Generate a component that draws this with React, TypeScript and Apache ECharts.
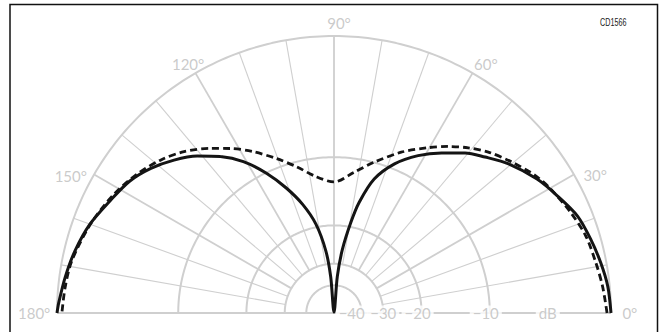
import { useEffect, useRef } from "react";
import * as echarts from "echarts";

// Radial scale: rings in dB (radius grows as 10^(dB/40))
const ringDb = [0, -10, -20, -30, -40];
const spokeAngles = [10, 20, 30, 40, 50, 60, 70, 80, 90, 100, 110, 120, 130, 140, 150, 160, 170];
const angleLabels = [0, 30, 60, 90, 120, 150, 180];
const radialLabelText = ["\u221240", "\u221230", "\u221220", "\u221210", "dB"];
const radialLabelDb = [-40, -30, -20, -10, -4.5];

// Solid curve (angle in degrees, level in dB)
const solidAngles = [0, 5.5, 10.6, 16, 21.7, 27.7, 33.4, 40.5, 45.9, 50.7, 56.1, 61.9, 67.9, 73.3, 77.2, 79.5, 82.5, 84.8, 90, 95.2, 97.5, 101.5, 106.1, 110.9, 115.8, 120.9, 126, 131.1, 136.3, 141.7, 147.2, 153.5, 160, 166.5, 172.4, 178, 180];
const solidDb = [0, -0.12, -0.35, -0.63, -0.96, -1.63, -2.26, -3.26, -4.23, -5.07, -6.29, -7.64, -9.43, -11.87, -15.53, -19.2, -25.5, -35.1, -100, -35.4, -25.8, -19.4, -15.57, -12.64, -10.06, -7.83, -6.25, -4.96, -3.9, -2.98, -2.26, -1.74, -1.12, -0.68, -0.37, -0.09, 0];

// Dashed curve
const dashedAngles = [0, 5.6, 10.8, 17, 23, 29.8, 34.3, 40.3, 46.2, 50.9, 55.6, 60.4, 67.3, 75, 81.9, 90, 97.6, 104.5, 110.5, 116.6, 122.3, 126.9, 132.9, 138.5, 145, 152, 160, 168.7, 174.5, 180];
const dashedDb = [-0.25, -0.45, -0.66, -0.88, -1.29, -1.81, -2.22, -2.98, -3.77, -4.58, -5.5, -6.54, -8.05, -9.95, -11.6, -13.0, -12.14, -10.5, -9.0, -7.45, -6.13, -5.16, -3.98, -3.15, -2.4, -1.75, -1.15, -0.62, -0.44, -0.31];

const toR = (db: number) => Math.pow(10, db / 40);

const GRID = "#cfcfcf";
const LABEL = "#bdbdbd";
const CX = 334;
const CY = 313;
const R = 277;
const RMAX = 1.1;

export default function App() {
  const ref = useRef<HTMLDivElement>(null);
  useEffect(() => {
    if (!ref.current) return;
    const chart = echarts.init(ref.current, null, { renderer: "svg" });
    const arcAngles: number[] = [];
    for (let a = 0; a <= 180; a += 1) arcAngles.push(a);

    const series: any[] = [];
    ringDb.forEach((db) => {
      series.push({
        type: "line",
        coordinateSystem: "polar",
        data: arcAngles.map((a) => [toR(db), a]),
        showSymbol: false,
        symbol: "none",
        silent: true,
        z: 1,
        lineStyle: { color: GRID, width: 2 },
      });
    });
    spokeAngles.forEach((a) => {
      series.push({
        type: "line",
        coordinateSystem: "polar",
        data: [[toR(-30), a], [1, a]],
        showSymbol: false,
        symbol: "none",
        silent: true,
        z: 1,
        lineStyle: { color: GRID, width: a % 30 === 0 ? 1.8 : 1.1 },
      });
    });
    [0, 180].forEach((a) => {
      series.push({
        type: "line",
        coordinateSystem: "polar",
        data: [[0, a], [1, a]],
        showSymbol: false,
        symbol: "none",
        silent: true,
        z: 1,
        lineStyle: { color: GRID, width: 2 },
      });
    });
    const radialOffsets = [-10, 0, -4, -4, 0];
    series.push({
      type: "scatter",
      coordinateSystem: "polar",
      symbolSize: 1,
      silent: true,
      z: 2,
      itemStyle: { color: "rgba(0,0,0,0)" },
      data: radialLabelText.map((t, i) => ({
        name: t,
        value: [toR(radialLabelDb[i]), 0],
        label: { offset: [radialOffsets[i], 0] },
      })),
      label: {
        show: true,
        position: "inside",
        formatter: "{b}",
        color: LABEL,
        fontFamily: "Lato, 'DejaVu Sans', sans-serif",
        fontSize: 15,
        backgroundColor: "#ffffff",
        padding: [0, 3],
      },
    });
    const angleOffsets = [[0, 0], [5, 10], [4, 7], [5, 6], [2, 7], [-7, 11], [-4, 0]];
    series.push({
      type: "scatter",
      coordinateSystem: "polar",
      symbolSize: 1,
      silent: true,
      z: 2,
      itemStyle: { color: "rgba(0,0,0,0)" },
      data: angleLabels.map((a, i) => ({
        name: a + "\u00b0",
        value: [1.068, a],
        label: { offset: angleOffsets[i] },
      })),
      label: {
        show: true,
        position: "inside",
        formatter: "{b}",
        color: LABEL,
        fontFamily: "Lato, 'DejaVu Sans', sans-serif",
        fontSize: 15,
      },
    });
    series.push({
      type: "line",
      coordinateSystem: "polar",
      data: solidAngles.map((a, i) => [toR(solidDb[i]), a]),
      showSymbol: false,
      symbol: "none",
      smooth: 0.3,
      z: 5,
      lineStyle: { color: "#141414", width: 3 },
    });
    series.push({
      type: "line",
      coordinateSystem: "polar",
      data: dashedAngles.map((a, i) => [toR(dashedDb[i]), a]),
      showSymbol: false,
      symbol: "none",
      smooth: 0.3,
      z: 4,
      lineStyle: { color: "#141414", width: 2.8, type: [7, 4] },
    });

    chart.setOption({
      animation: false,
      backgroundColor: "#ffffff",
      polar: { center: [CX, CY], radius: R * RMAX },
      angleAxis: {
        type: "value",
        min: 0,
        max: 360,
        startAngle: 0,
        clockwise: false,
        axisLine: { show: false },
        axisTick: { show: false },
        axisLabel: { show: false },
        splitLine: { show: false },
      },
      radiusAxis: {
        type: "value",
        min: 0,
        max: RMAX,
        axisLine: { show: false },
        axisTick: { show: false },
        axisLabel: { show: false },
        splitLine: { show: false },
      },
      graphic: [
        {
          type: "rect",
          shape: { x: 10, y: 4.5, width: 647.5, height: 400 },
          style: { fill: "none", stroke: "#111111", lineWidth: 1.5 },
          silent: true,
          z: 10,
        },
        {
          type: "text",
          x: 600,
          y: 23,
          scaleX: 0.72,
          style: {
            text: "CD1566",
            fill: "#222222",
            font: "10px 'Liberation Sans Narrow', 'Liberation Sans', sans-serif",
            verticalAlign: "middle",
            align: "left",
          },
          silent: true,
          z: 10,
        },
      ],
      series,
    });
    return () => chart.dispose();
  }, []);
  return (
    <div
      ref={ref}
      style={{ position: "fixed", left: 0, top: 0, width: 663, height: 332, background: "#fff" }}
    />
  );
}
